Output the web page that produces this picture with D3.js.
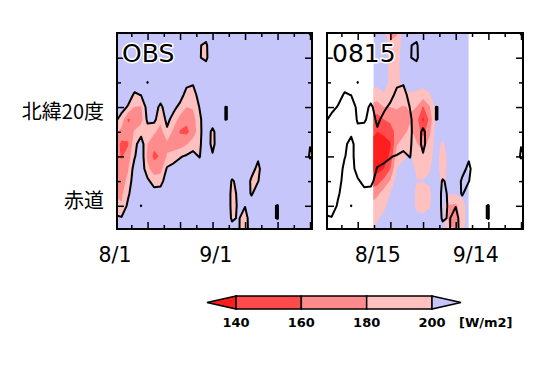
<!DOCTYPE html>
<html>
<head>
<meta charset="utf-8">
<script src="https://cdn.jsdelivr.net/npm/d3@7"></script>
<style>
body { margin: 0; background: #fff; }
svg { display: block; }
</style>
</head>
<body>
<div id="container"></div>
<script>
// grid rows: latitude (north -> south), grid columns: days since 8/1
const lats = [35, 32.5, 30, 27.5, 25, 22.5, 20, 17.5, 15, 12.5, 10, 7.5, 5, 2.5, 0, -2.5, -5];
const obsDays = [0, 2, 4, 6, 8, 10, 12, 14, 16, 18, 20, 22, 24, 26, 28, 30,
                 32, 34, 36, 38, 40, 42, 44, 46, 48, 50, 52, 54, 56, 58, 60];
const fcDays = [14, 16, 18, 20, 22, 24, 26, 28, 30, 32, 34, 36, 38, 40, 42, 44];
const fcWindow = [14.8, 44];   // forecast period (8/15 - 9/14)

// observed OLR [W/m2], one array per day column, values north -> south
const obsCols = [
  [215,215,215,215,215,215,215,204,190,172,170,172,175,178,188,204,215], // 8/1
  [215,215,215,215,215,215,207,193,172,155,158,168,172,176,182,202,215],
  [215,215,215,215,215,210,198,157,168,158,170,178,185,196,205,215,215],
  [215,215,215,215,212,197,180,165,182,193,198,210,215,215,215,215,215],
  [215,215,215,215,210,201,178,172,192,212,215,215,215,215,199.6,215,215],
  [215,215,215,215,199.6,212,210,205,190,180,175,185,205,215,215,215,215],
  [215,215,215,215,215,212,210,206,184,165,155,170,190,210,215,215,215],
  [215,215,215,215,215,212,195,185,172,165,162,172,192,210,215,215,215],
  [215,215,215,215,215,215,212,206,196,175,182,203,212,215,215,215,215],
  [215,215,215,215,215,212,206,192,175,168,190,208,215,215,215,215,215],
  [215,215,215,215,215,210,194,172,158,170,198,212,215,215,215,215,215], // 8/21
  [215,215,215,215,206,192,180,165,155,178,203,212,215,215,215,215,215],
  [215,215,215,215,203,190,182,172,168,192,206,212,215,215,215,215,215],
  [215,201,201,215,215,210,201,195,194,196,199,210,215,215,215,215,215],
  [208,197,196,210,215,215,215,215,215,215,215,215,215,215,215,215,215],
  [215,215,215,215,215,215,215,215,194,193,203,215,215,215,215,215,215],
  [215,215,215,215,215,215,215,215,215,215,215,215,215,215,215,215,215],
  [215,215,215,215,215,215,199.5,199.5,215,215,215,215,215,215,215,215,215],
  [215,215,215,215,215,215,202,202,215,215,215,212,198,195,195,197,208],
  [215,215,215,215,215,215,215,215,215,215,215,215,205,203,202,202,202],
  [215,215,215,215,215,215,215,215,215,215,215,215,215,215,201,190,188],
  [215,215,215,215,215,215,215,215,215,215,215,208,196,197,215,215,215],
  [215,215,215,215,215,215,215,215,215,215,204,194,199,215,215,215,215],
  [215,215,215,215,215,215,215,215,215,215,215,215,215,215,215,215,215],
  [215,215,215,215,215,215,215,215,215,215,215,215,215,215,203,203,215],
  [215,215,215,215,215,215,215,215,215,215,215,215,215,215,199,199,215],
  [215,215,215,215,215,215,215,215,215,215,215,215,215,215,215,215,215],
  [215,215,215,215,215,215,215,215,215,215,215,215,215,215,215,215,215],
  [215,215,215,215,215,215,215,215,215,215,215,215,215,215,215,215,215],
  [215,215,215,215,215,215,215,215,215,215,215,215,215,215,215,215,215],
  [198,215,215,215,215,215,215,215,215,201,197,215,215,215,215,215,215]
];

// forecast OLR from 8/15 [W/m2]
const fcCols = [
  [215,215,215,215,208,195,172,155,148,135,132,138,150,168,185,192,196],
  [215,215,215,215,205,192,170,152,140,128,125,132,152,175,192,198,205],
  [215,215,215,215,210,198,180,160,145,130,128,140,165,190,196,205,210],
  [175,183,190,193,194,190,180,165,150,138,145,160,182,200.5,208,212,215],
  [178,188,194,196,196,192,182,172,168,178,192,200.5,210,215,215,215,215],
  [210,210,208,206,204,196,178,172,175,188,198,204,212,215,215,215,215],
  [215,215,215,215,210,198,182,178,185,196,202,210,215,215,215,215,215],
  [215,215,215,215,208,196,180,168,172,182,192,197,200.5,195,196,205,212],
  [215,215,215,215,206,192,158,136,152,172,185,196,200.5,194,195,203,210],
  [215,215,215,215,210,198,178,165,175,188,196,199,202,197,198,208,215],
  [215,215,215,215,215,210,208,206,210,208,205,205,207,210,212,212,215],
  [212,212,212,212,212,212,212,212,212,196,193,194,197,203,205,212,212],
  [212,212,212,212,212,212,212,212,212,212,205,204,203,201,178,172,185],
  [212,212,212,212,212,212,212,212,212,212,212,212,212,202,176,170,182],
  [212,212,212,212,212,212,212,212,212,212,212,212,212,206,190,188,194],
  [212,212,212,212,212,212,212,212,212,212,212,212,212,212,212,212,212]
];

const levels = [200, 180, 160, 140];
const levelColors = ["#ffc0c0", "#ff8c8c", "#ff4b4b", "#ff1e1e"];
const aboveColor = "#c6c6fa";

const dayTicksLong = [10, 20, 30, 40, 50, 60];
const dayTicksShort = [5, 15, 25, 35, 45, 55];
const latTicksLong = [0, 10, 20, 30];
const latTicksShort = [5, 15, 25];

const obsLabelDays = [0, 31];
const obsLabelText = ["8/1", "9/1"];
const fcLabelDays = [14, 44];
const fcLabelText = ["8/15", "9/14"];
const latLabelLats = [20, 0];
const latLabelText = ["北緯20度", "赤道"];
const legendValues = [140, 160, 180, 200];

const svg = d3.select("#container").append("svg")
    .attr("width", 558).attr("height", 371);

const yTop = 33, yBottom = 229;
const dayDomain = [0.6, 60.6];
const y = d3.scaleLinear().domain([-4.7, 35]).range([yBottom, yTop]);
const xL = d3.scaleLinear().domain(dayDomain).range([117, 312]);
const xR = d3.scaleLinear().domain(dayDomain).range([327, 523]);

// contours of -OLR so each polygon is the area with OLR <= level
function contourSet(cols) {
  const vals = [];
  for (let r = 0; r < lats.length; r++)
    for (let c = 0; c < cols.length; c++) vals.push(-cols[c][r]);
  return d3.contours().size([cols.length, lats.length])
    .thresholds(levels.map(l => -l))(vals);
}

function gridPath(x, days) {
  const dStep = days[1] - days[0], lStep = lats[0] - lats[1];
  return d3.geoPath(d3.geoTransform({
    point: function(gx, gy) {
      this.stream.point(x(days[0] + (gx - 0.5) * dStep), y(lats[0] - (gy - 0.5) * lStep));
    }
  }));
}

const obsContours = contourSet(obsCols);
const fcContours = contourSet(fcCols);

function clipRect(id, x0, y0, x1, y1) {
  svg.append("clipPath").attr("id", id).append("rect")
    .attr("x", x0).attr("y", y0).attr("width", x1 - x0).attr("height", y1 - y0);
  return "url(#" + id + ")";
}

function fills(g, contours, path) {
  g.selectAll("path.fill").data(contours).join("path")
    .attr("class", "fill")
    .attr("d", path)
    .attr("fill", (d, i) => levelColors[i])
    .attr("stroke", "none");
}

function obsLine(g, path) {
  g.append("path")
    .attr("d", path(obsContours[0]))
    .attr("fill", "none")
    .attr("stroke", "#000")
    .attr("stroke-width", 2)
    .attr("stroke-linejoin", "round");
}

function frame(x, title, labelDays, labelText, labelDx) {
  const [x0, x1] = x.range();
  const g = svg.append("g");
  g.append("rect")
    .attr("x", x0).attr("y", yTop).attr("width", x1 - x0).attr("height", yBottom - yTop)
    .attr("fill", "none").attr("stroke", "#000").attr("stroke-width", 2);

  [[dayTicksLong, 7], [dayTicksShort, 4]].forEach(([vals, len]) => {
    g.append("g").attr("transform", "translate(0," + yBottom + ")")
      .call(d3.axisBottom(x).tickValues(vals).tickSize(-len).tickFormat(""));
    g.append("g").attr("transform", "translate(0," + yTop + ")")
      .call(d3.axisTop(x).tickValues(vals).tickSize(-len).tickFormat(""));
  });
  [[latTicksLong, 7], [latTicksShort, 4]].forEach(([vals, len]) => {
    g.append("g").attr("transform", "translate(" + x0 + ",0)")
      .call(d3.axisLeft(y).tickValues(vals).tickSize(-len).tickFormat(""));
    g.append("g").attr("transform", "translate(" + x1 + ",0)")
      .call(d3.axisRight(y).tickValues(vals).tickSize(-len).tickFormat(""));
  });
  g.selectAll(".domain").remove();
  g.selectAll(".tick line").attr("stroke", "#000").attr("stroke-width", 1.5);

  g.append("text")
    .attr("x", x0 + 5).attr("y", 62)
    .style("font-family", "DejaVu Sans").style("font-size", "25px")
    .attr("fill", "#000").attr("stroke", "#fff").attr("stroke-width", 3)
    .attr("paint-order", "stroke").attr("stroke-linejoin", "round")
    .text(title);

  labelDays.forEach((d, i) => {
    g.append("text")
      .attr("x", x(d) + labelDx).attr("y", 262)
      .attr("text-anchor", "middle")
      .style("font-family", "DejaVu Sans").style("font-size", "20.5px")
      .text(labelText[i]);
  });
}

// left panel: observation
const bodyL = svg.append("g").attr("clip-path", clipRect("clipL", 117, yTop, 312, yBottom));
bodyL.append("rect").attr("x", 117).attr("y", yTop).attr("width", 195).attr("height", yBottom - yTop)
  .attr("fill", aboveColor);
const pathL = gridPath(xL, obsDays);
fills(bodyL, obsContours, pathL);
obsLine(bodyL, pathL);
frame(xL, "OBS", obsLabelDays, obsLabelText, 0);

// right panel: forecast from 8/15 with observed 200 W/m2 line
const bodyR = svg.append("g").attr("clip-path", clipRect("clipR", 327, yTop, 523, yBottom));
const win = bodyR.append("g")
  .attr("clip-path", clipRect("clipW", xR(fcWindow[0]), yTop, xR(fcWindow[1]), yBottom));
win.append("rect")
  .attr("x", xR(fcWindow[0])).attr("y", yTop)
  .attr("width", xR(fcWindow[1]) - xR(fcWindow[0])).attr("height", yBottom - yTop)
  .attr("fill", aboveColor);
fills(win, fcContours, gridPath(xR, fcDays));
obsLine(bodyR, gridPath(xR, obsDays));
frame(xR, "0815", fcLabelDays, fcLabelText, 7);

// latitude labels
const latDy = [12, 2];
latLabelLats.forEach((l, i) => {
  svg.append("text")
    .attr("x", 104).attr("y", y(l) + latDy[i])
    .attr("text-anchor", "end")
    .style("font-family", "Noto Sans CJK JP").style("font-size", "20px")
    .text(latLabelText[i]);
});

// colour bar
const lx = d3.scaleLinear().domain([140, 200]).range([236, 432]);
const ly0 = 296, ly1 = 309, tip = 29;
const lg = svg.append("g");
lg.append("path")
  .attr("d", "M" + lx(140) + "," + ly0 + "L" + (lx(140) - tip) + "," + (ly0 + ly1) / 2 + "L" + lx(140) + "," + ly1 + "Z")
  .attr("fill", levelColors[3]);
legendValues.slice(0, -1).forEach((v, i) => {
  lg.append("rect")
    .attr("x", lx(v)).attr("y", ly0)
    .attr("width", lx(legendValues[i + 1]) - lx(v)).attr("height", ly1 - ly0)
    .attr("fill", levelColors[2 - i]);
});
lg.append("path")
  .attr("d", "M" + lx(200) + "," + ly0 + "L" + (lx(200) + tip) + "," + (ly0 + ly1) / 2 + "L" + lx(200) + "," + ly1 + "Z")
  .attr("fill", aboveColor);
lg.selectAll("path, rect").attr("stroke", "#000").attr("stroke-width", 1.5);

legendValues.forEach(v => {
  lg.append("text")
    .attr("x", lx(v)).attr("y", 327)
    .attr("text-anchor", "middle")
    .style("font-family", "DejaVu Sans").style("font-size", "13px").style("font-weight", "bold")
    .text(v);
});
lg.append("text")
  .attr("x", lx(200) + 27).attr("y", 327)
  .style("font-family", "DejaVu Sans").style("font-size", "13px").style("font-weight", "bold")
  .text("[W/m2]");
</script>
</body>
</html>
